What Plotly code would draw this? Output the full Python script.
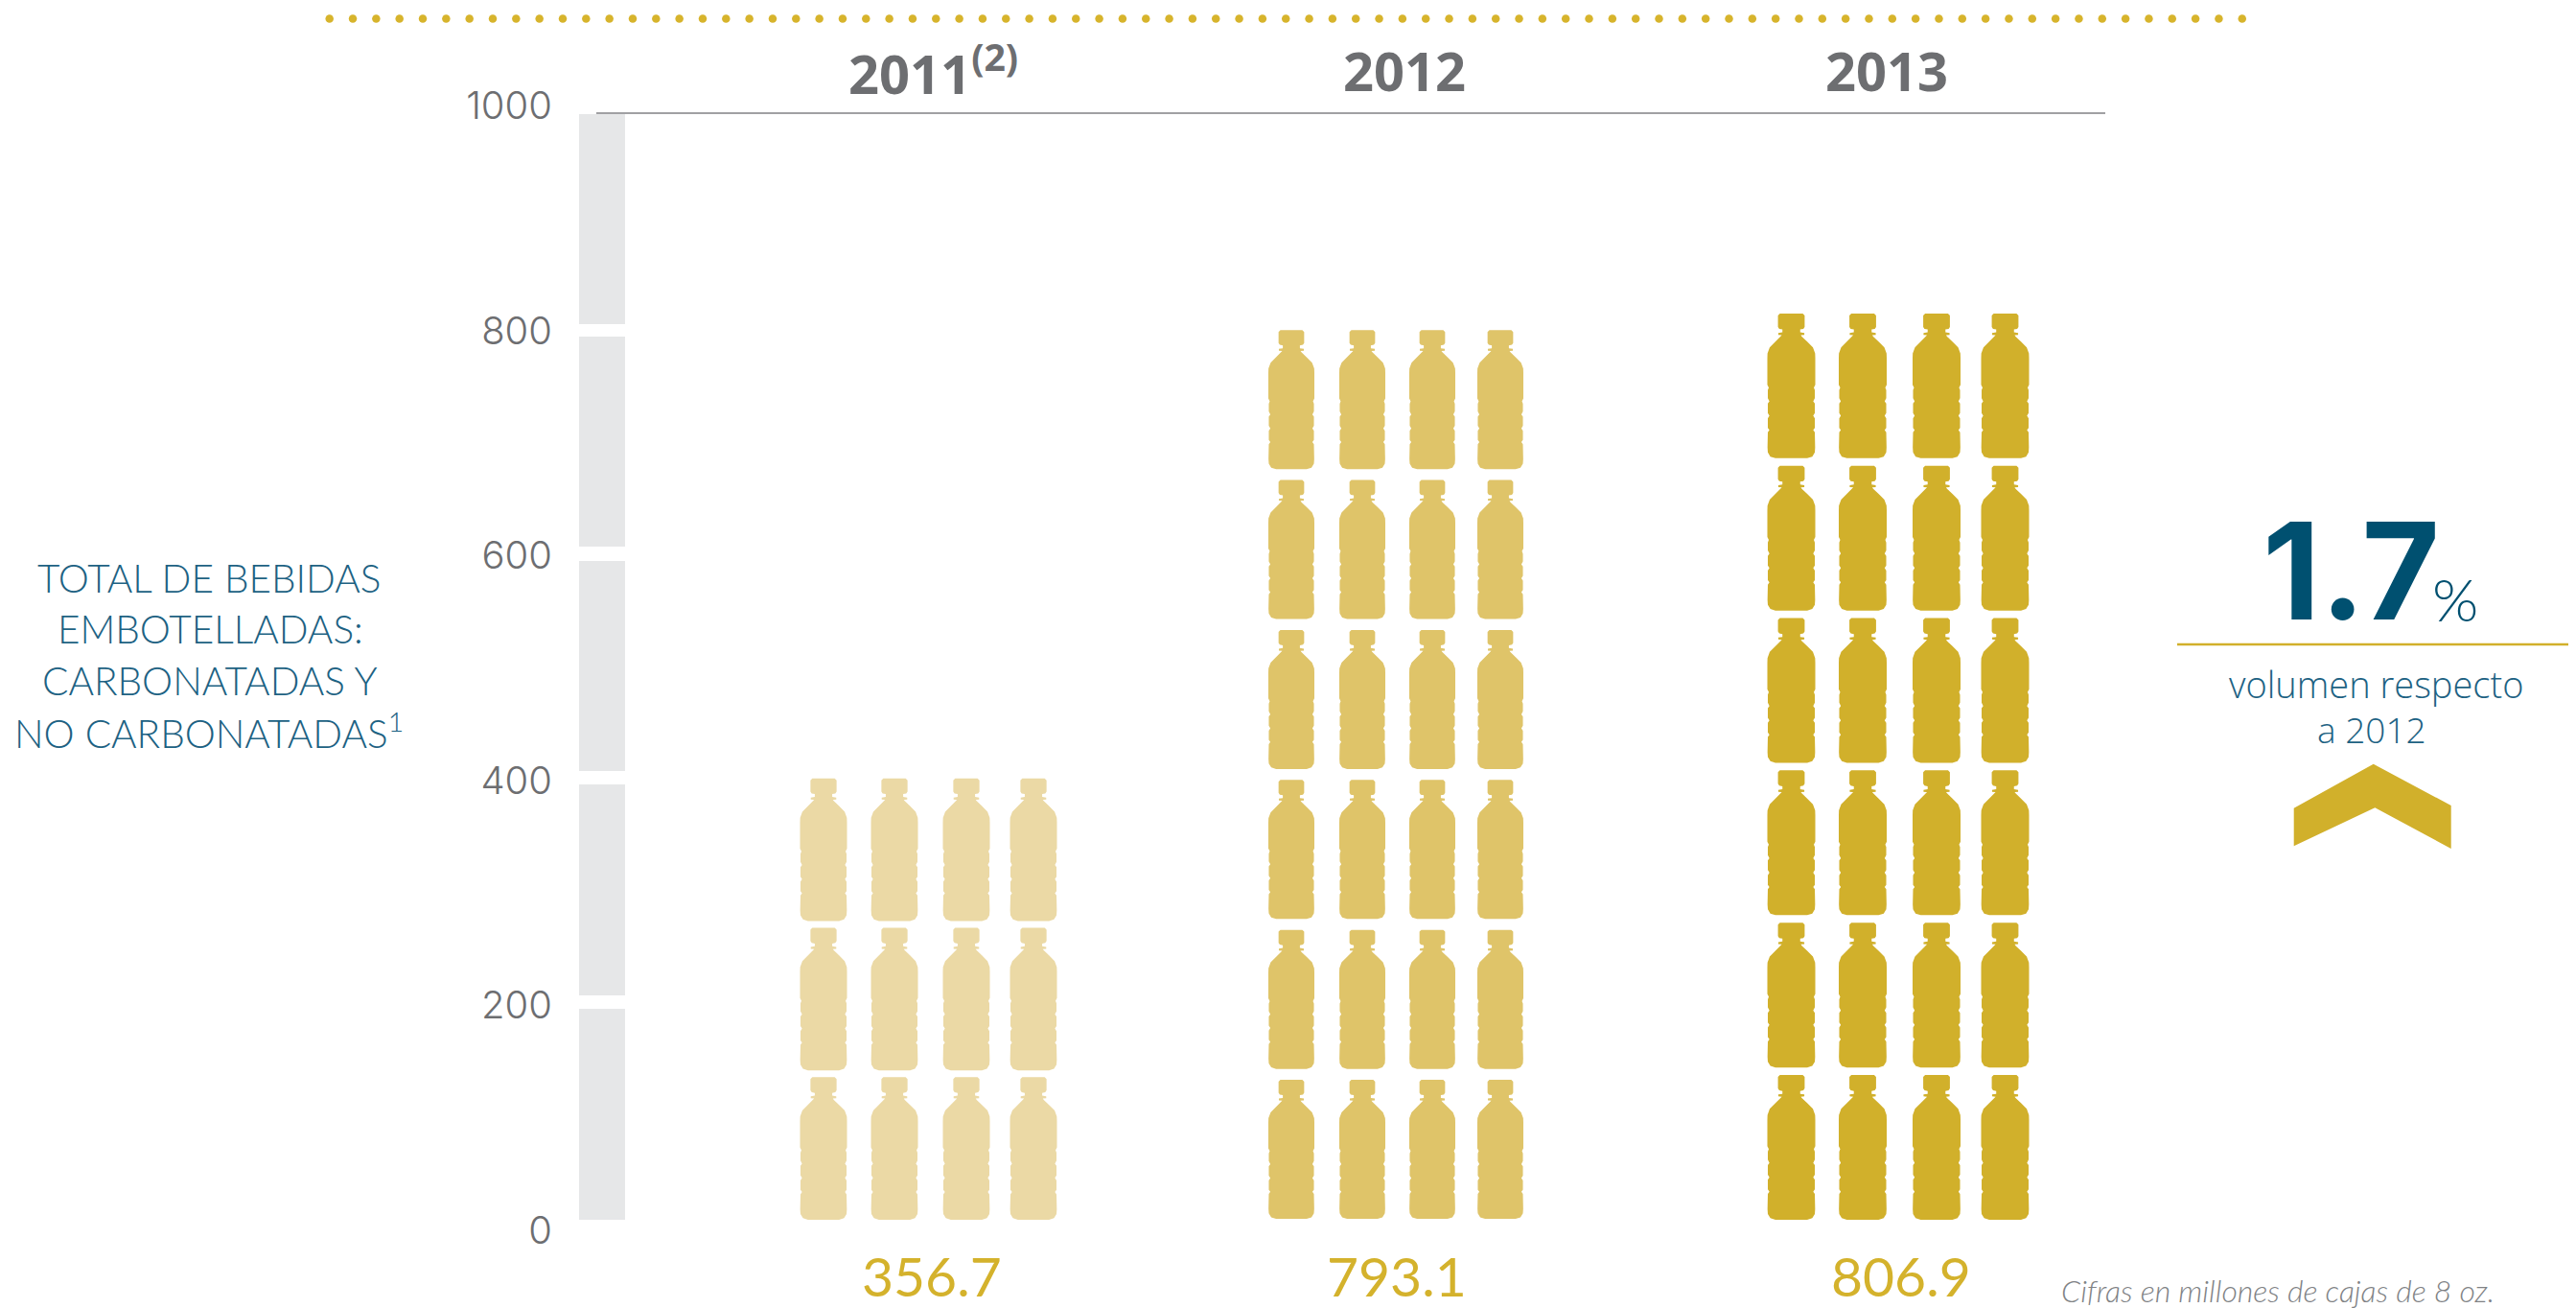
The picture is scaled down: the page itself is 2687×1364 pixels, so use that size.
import plotly.graph_objects as go

# ---- data ----
YEARS = ["2011<sup>(2)</sup>", "2012", "2013"]
VOLUMES = [356.7, 793.1, 806.9]
Y_TICKS = [0, 200, 400, 600, 800, 1000]
BOTTLE_ROWS = [3, 6, 6]
BAND_BASE = [9.4, 208.9, 408.4, 607.8, 805.6]
BAND_TOP = [196.9, 396.4, 595, 794.5, 992.3]
BAND_HEIGHT = [t - b for t, b in zip(BAND_TOP, BAND_BASE)]
CHANGE = "1.7"

# ---- layout helpers (page pixels) ----
W, H = 2687, 1364
PX_L, PX_R, PX_T, PX_B = 604, 2196, 110, 1283

GREY = "#6d6e71"
GOLD = "#d1b02b"
TEAL = "#005070"
TEAL2 = "#1d6283"
LIGHT = "Lato"
BOLD = "Noto Sans"
NUM = "Inter"

# half outline of a bottle, (half width, depth from the top), drawn at 151 x 453
OUTLINE = [(36, 0), (42, 6), (42, 42), (38, 48), (28, 50), (28, 59), (41, 61), (41, 67),
           (30, 68), (33, 72), (50, 88), (68, 106), (75, 125), (75.5, 140), (75.5, 223),
           (71, 232), (74, 240), (74, 265), (69, 275), (74, 282), (74, 312), (69, 320),
           (74, 328), (74, 358), (69, 365), (74, 372), (75, 420), (74, 435), (66, 448),
           (50, 453)]

COLUMNS = [[859, 933, 1008, 1078], [1347, 1421, 1494, 1565], [1868.5, 1943, 2020, 2091.5]]
BOTTLE_W = [49, 48, 50]
BOTTLE_H = [126.8, 123.6, 128.7]
ROW_STEP = [132.8, 133.3, 135.4]
ROW_BASE = [9.4, 10.2, 9.4]
BOTTLE_COLORS = ["#ebd9a5", "#dfc469", "#d1b02b"]


def bottle(cx, base, w, h):
    xs, ys = [], []
    right = [(cx + a / 151 * w, base + h - b / 453 * h) for a, b in OUTLINE]
    left = [(cx - a / 151 * w, base + h - b / 453 * h) for a, b in reversed(OUTLINE)]
    for x, y in right + left:
        xs.append(x)
        ys.append(y)
    xs += [xs[0], None]
    ys += [ys[0], None]
    return xs, ys


fig = go.Figure()

# grey segmented band
fig.add_trace(go.Bar(x=[628] * len(BAND_BASE), y=BAND_HEIGHT, base=BAND_BASE, width=48,
                     marker=dict(color="#e6e7e8", line=dict(width=0)), hoverinfo="skip",
                     showlegend=False))

# bottles
for i, rows in enumerate(BOTTLE_ROWS):
    xs, ys = [], []
    for r in range(rows):
        for cx in COLUMNS[i]:
            a, b = bottle(cx, ROW_BASE[i] + r * ROW_STEP[i], BOTTLE_W[i], BOTTLE_H[i])
            xs += a
            ys += b
    fig.add_trace(go.Scatter(x=xs, y=ys, mode="lines", fill="toself",
                             fillcolor=BOTTLE_COLORS[i], line=dict(width=0),
                             hoverinfo="skip", showlegend=False))

# dotted rule at the top of the page
dots_x = [343.7 + 24.33 * k for k in range(83)]
fig.add_trace(go.Scatter(x=dots_x, y=[19.5] * 83, mode="markers", xaxis="x2", yaxis="y2",
                         marker=dict(size=8.5, color="#d7b42c", line=dict(width=0)),
                         hoverinfo="skip", showlegend=False))

# chevron
fig.add_trace(go.Scatter(x=[2392.7, 2475.7, 2556.7, 2556.7, 2477.3, 2392.7, 2392.7],
                         y=[842.7, 796.7, 840, 885, 842.3, 882.3, 842.7],
                         mode="lines", fill="toself", fillcolor=GOLD, line=dict(width=0),
                         xaxis="x2", yaxis="y2", hoverinfo="skip", showlegend=False))


def note(text, x, y, size, color, family=LIGHT, weight=300, anchor="center", style="normal"):
    fig.add_annotation(text=text, x=x, y=y, xref="x2", yref="y2", showarrow=False,
                       xanchor=anchor, yanchor="middle", align="center",
                       font=dict(family=family, size=size, color=color, weight=weight, style=style))


# year headers
for txt, x in zip(YEARS, [973, 1465, 1968]):
    note(txt, x, 73, 56, GREY, family=BOLD, weight=700)

# value labels
for v, x in zip(VOLUMES, [972, 1457, 1983]):
    note(f"{v:.1f}", x, 1330, 57, "#d4b22c", weight=400)

# left title
for txt, x, y in [("TOTAL DE BEBIDAS", 218, 602), ("EMBOTELLADAS:", 219, 655),
                  ("CARBONATADAS Y", 219, 709), ("NO CARBONATADAS<sup>1</sup>", 218, 762)]:
    note(txt, x, y, 40.5, TEAL2, weight=300)

# change callout
note(CHANGE, 2452, 595, 140, TEAL, family="Inter", weight=700)
note("%", 2561, 624, 62, TEAL, weight=300)
note("volumen respecto", 2478, 713, 38, TEAL2, family="Open Sans", weight=300)
note("a 2012", 2474, 760, 37, TEAL2, family="Open Sans", weight=300)

# footnote
note("Cifras en millones de cajas de 8 oz.", 2604, 1345, 32, "#808285", weight=300,
     anchor="right", style="italic")

fig.update_layout(
    width=W, height=H, autosize=False, margin=dict(l=0, r=0, t=0, b=0),
    paper_bgcolor="white", plot_bgcolor="rgba(0,0,0,0)", barmode="overlay", bargap=0,
    xaxis=dict(domain=[PX_L / W, PX_R / W], range=[PX_L, PX_R], visible=False, automargin=False),
    yaxis=dict(domain=[(H - PX_B) / H, (H - PX_T) / H], range=[0, 1000], tickmode="array",
               tickvals=Y_TICKS, ticktext=[str(t) for t in Y_TICKS], showgrid=False,
               zeroline=False, showline=False, ticks="outside", ticklen=19,
               tickcolor="rgba(0,0,0,0)", automargin=False,
               tickfont=dict(family=NUM, size=40, color=GREY, weight=300)),
    xaxis2=dict(domain=[0, 1], range=[0, W], visible=False, anchor="y2", automargin=False),
    yaxis2=dict(domain=[0, 1], range=[H, 0], visible=False, anchor="x2", automargin=False),
    shapes=[
        dict(type="line", xref="x2", yref="y2", x0=622, x1=2196, y0=118, y1=118,
             line=dict(color="#808184", width=1.5)),
        dict(type="line", xref="x2", yref="y2", x0=2271, x1=2679, y0=672, y1=672,
             line=dict(color=GOLD, width=2.5)),
    ],
)

fig.write_html("out.html", config={"displayModeBar": False},
               post_script="document.body.style.margin='0';document.body.style.overflow='hidden';")
